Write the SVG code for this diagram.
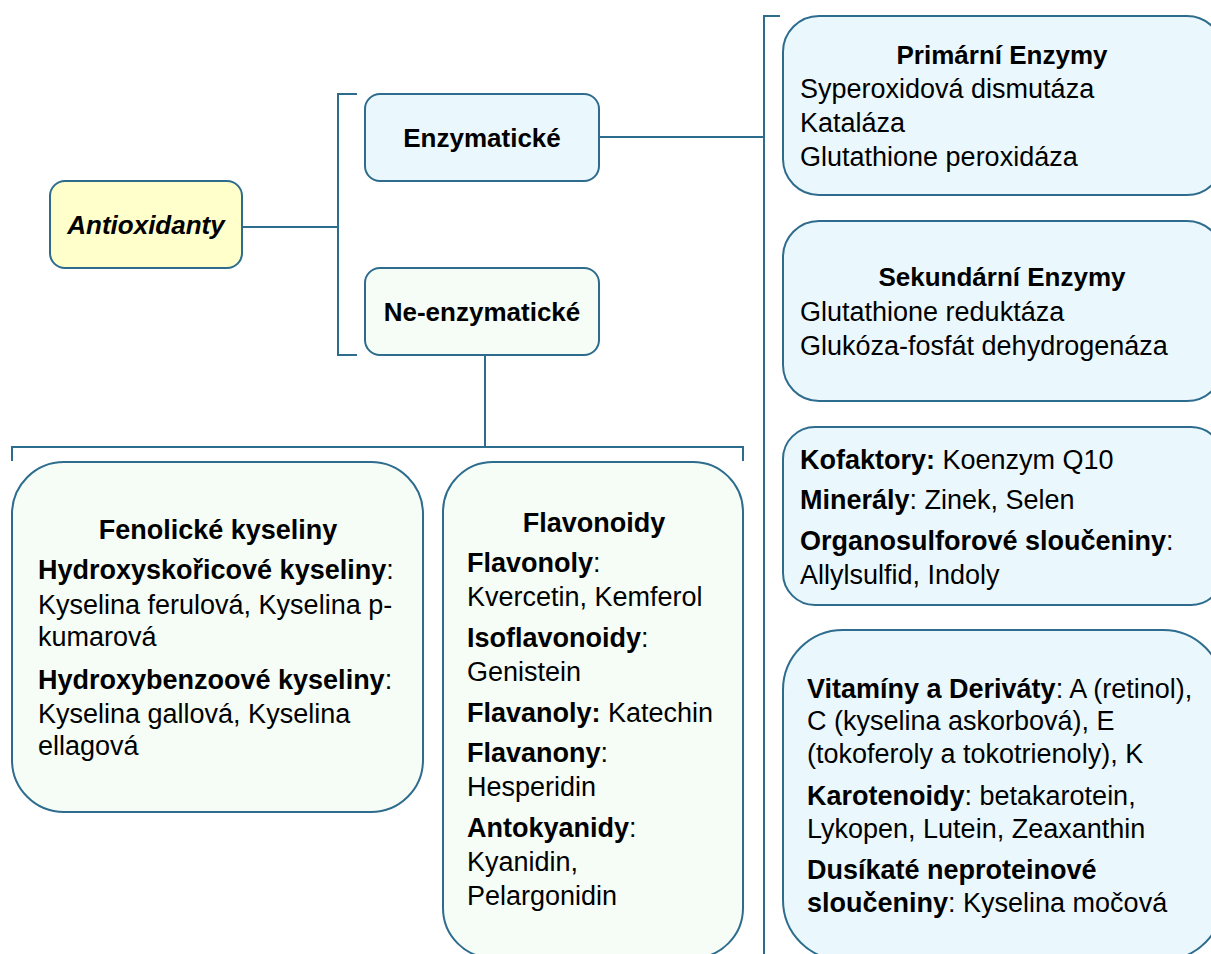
<svg xmlns="http://www.w3.org/2000/svg" width="1211" height="954" viewBox="0 0 1211 954">
<style>
.box{stroke:#2E6C8E;stroke-width:2}
.yel{fill:#FFFFCC}
.blu{fill:#EAF8FD}
.grn{fill:#F5FDF6}
.con{fill:none;stroke:#2E6C8E;stroke-width:2}
text{font-family:"Liberation Sans",Arial,sans-serif;font-size:27px;fill:#000}
.h{font-size:26px}
.b{font-weight:bold}
.c{text-anchor:middle}
</style>
<rect width="1211" height="954" fill="#FFFFFF"/>
<g id="connectors">
<path class="con" d="M242,227 H338 M357,94 H338 V355 H357"/>
<path class="con" d="M599,137 H764 M780,16 H764 V960"/>
<path class="con" d="M485,355 V447 M12,461 V447 H743 V461"/>
</g>
<g id="antioxidanty">
<rect class="box yel" x="50" y="181" width="192" height="87" rx="15"/>
<text class="h b c" x="146" y="234" font-style="italic">Antioxidanty</text>
</g>
<g id="enzymaticke">
<rect class="box blu" x="365" y="94" width="234" height="87" rx="15"/>
<text class="h b c" x="482" y="147">Enzymatické</text>
</g>
<g id="neenzymaticke">
<rect class="box grn" x="365" y="268" width="234" height="87" rx="15"/>
<text class="h b c" x="482" y="321">Ne-enzymatické</text>
</g>
<g id="primarni">
<rect class="box blu" x="783" y="16" width="440" height="179" rx="36"/>
<text class="h b c" x="1002" y="64">Primární Enzymy</text>
<text x="800" y="98">Syperoxidová dismutáza</text>
<text x="800" y="132">Kataláza</text>
<text x="800" y="166">Glutathione peroxidáza</text>
</g>
<g id="sekundarni">
<rect class="box blu" x="783" y="221" width="440" height="180" rx="36"/>
<text class="h b c" x="1002" y="286">Sekundární Enzymy</text>
<text x="800" y="321">Glutathione reduktáza</text>
<text x="800" y="355">Glukóza-fosfát dehydrogenáza</text>
</g>
<g id="kofaktory">
<rect class="box blu" x="783" y="427" width="440" height="178" rx="32"/>
<text x="800" y="469"><tspan class="b">Kofaktory:</tspan> Koenzym Q10</text>
<text x="800" y="509"><tspan class="b">Minerály</tspan>: Zinek, Selen</text>
<text x="800" y="550"><tspan class="b">Organosulforové sloučeniny</tspan>:</text>
<text x="800" y="584">Allylsulfid, Indoly</text>
</g>
<g id="vitaminy">
<rect class="box blu" x="783" y="630" width="440" height="330" rx="60"/>
<text x="807" y="698"><tspan class="b">Vitamíny a Deriváty</tspan>: A (retinol),</text>
<text x="807" y="730">C (kyselina askorbová), E</text>
<text x="807" y="763">(tokoferoly a tokotrienoly), K</text>
<text x="807" y="805"><tspan class="b">Karotenoidy</tspan>: betakarotein,</text>
<text x="807" y="838">Lykopen, Lutein, Zeaxanthin</text>
<text x="807" y="879" class="b">Dusíkaté neproteinové</text>
<text x="807" y="912"><tspan class="b">sloučeniny</tspan>: Kyselina močová</text>
</g>
<g id="fenolicke">
<rect class="box grn" x="12" y="462" width="411" height="350" rx="52"/>
<text class="b c" x="218" y="539">Fenolické kyseliny</text>
<text x="38" y="579"><tspan class="b">Hydroxyskořicové kyseliny</tspan>:</text>
<text x="38" y="614">Kyselina ferulová, Kyselina p-</text>
<text x="38" y="646">kumarová</text>
<text x="38" y="689"><tspan class="b">Hydroxybenzoové kyseliny</tspan>:</text>
<text x="38" y="723">Kyselina gallová, Kyselina</text>
<text x="38" y="755">ellagová</text>
</g>
<g id="flavonoidy">
<rect class="box grn" x="443" y="462" width="300" height="496" rx="50"/>
<text class="b c" x="594" y="532">Flavonoidy</text>
<text x="467" y="572"><tspan class="b">Flavonoly</tspan>:</text>
<text x="467" y="606">Kvercetin, Kemferol</text>
<text x="467" y="647"><tspan class="b">Isoflavonoidy</tspan>:</text>
<text x="467" y="681">Genistein</text>
<text x="467" y="722"><tspan class="b">Flavanoly:</tspan> Katechin</text>
<text x="467" y="762"><tspan class="b">Flavanony</tspan>:</text>
<text x="467" y="796">Hesperidin</text>
<text x="467" y="837"><tspan class="b">Antokyanidy</tspan>:</text>
<text x="467" y="871">Kyanidin,</text>
<text x="467" y="905">Pelargonidin</text>
</g>
</svg>
